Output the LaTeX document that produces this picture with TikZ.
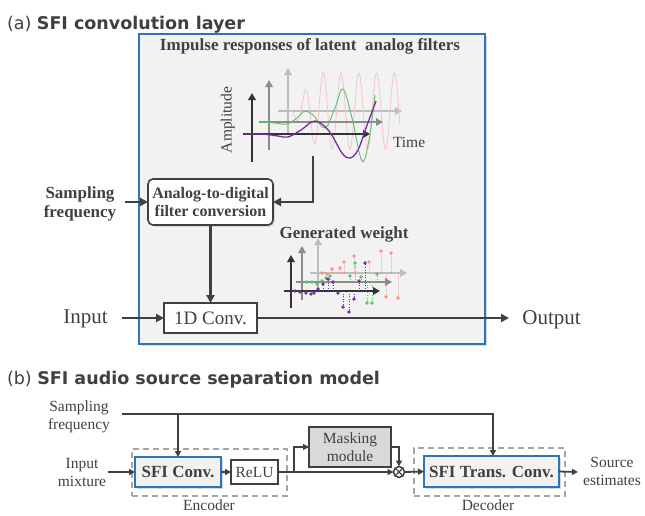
\documentclass[tikz,border=0pt]{standalone}
\usepackage{fontspec}
\setmainfont{Liberation Serif}
\newfontfamily\titlefont{DejaVu Sans}
\usetikzlibrary{arrows.meta,shadows}
\definecolor{ink}{HTML}{404040}
\definecolor{blueb}{HTML}{2E75B6}
\definecolor{boxfill}{HTML}{F2F2F2}
\definecolor{maskfill}{HTML}{D9D9D9}
\definecolor{dashc}{HTML}{A6A6A6}
\definecolor{axf}{HTML}{333333}
\definecolor{axm}{HTML}{8C8C8C}
\definecolor{axb}{HTML}{BDBDBD}
\definecolor{purp}{HTML}{7030A0}
\definecolor{grn}{HTML}{5CBF6A}
\definecolor{pnk}{HTML}{F4C6C6}
\definecolor{pnkd}{HTML}{F29494}
\newcommand\szTitle{\fontsize{17.5}{21}\selectfont}
\newcommand\szHead{\fontsize{17}{20}\selectfont}
\newcommand\szLab{\fontsize{15.5}{18.5}\selectfont}
\newcommand\szBig{\fontsize{21}{25}\selectfont}
\newcommand\szConv{\fontsize{19}{22}\selectfont}
\newcommand\szBold{\fontsize{17}{19}\selectfont}
\newcommand\szAdc{\fontsize{16}{18.5}\selectfont}
\begin{document}
\begin{tikzpicture}[x=1pt,y=-1pt,
  every node/.style={text=ink, inner sep=0pt, outer sep=0pt},
  shad/.style={drop shadow={shadow xshift=1.5pt,shadow yshift=-1.5pt,opacity=0.25,fill=black!60}},
  arr/.style={draw=ink, line width=2.6pt, -{Triangle[length=8pt,width=8pt]}},
  arrb/.style={draw=ink, line width=1.8pt, -{Triangle[length=6pt,width=6pt]}},
  ax/.style={line width=2.6pt, -{Triangle[length=7pt,width=7.5pt]}},
  axfront/.style={ax, draw=axf},
  axmid/.style={ax, draw=axm},
  axback/.style={ax, draw=axb},
  stem/.style={line width=0.6pt, dotted},
  adcbox/.style={draw=ink, line width=1.6pt, rounded corners=5pt, fill=white, align=center, font=\szAdc\bfseries, shad},
  convbox/.style={draw=ink, line width=1.6pt, fill=white, font=\szConv},
  sfibox/.style={draw=blueb, line width=2pt, fill=boxfill, font=\szBold\bfseries, shad},
  plainbox/.style={draw=ink, line width=1.3pt, fill=white, font=\szLab},
  maskbox/.style={draw=ink, line width=1.5pt, fill=maskfill, align=center, font=\szLab},
  dashbox/.style={draw=dashc, line width=1.2pt, dash pattern=on 6pt off 4pt},
  lab/.style={font=\szLab, align=center},
]
\useasboundingbox (0,0) rectangle (645,515);

% ---------------- (a) ----------------
\node[anchor=west, font=\titlefont\szTitle] (titleA) at (7,25) {(a) \textbf{SFI convolution layer}};
\node[draw=blueb, line width=2.2pt, fill=boxfill, minimum width=346pt, minimum height=310pt, shad] (frameA) at (312,189) {};
\node[anchor=base, font=\szHead\bfseries] (headA) at (310,50.5) {Impulse responses of latent\ \ analog filters};

% impulse response plot
\draw[axback] (288,135) -- (288,68);
\draw[axback] (278,111) -- (402,111);
\draw[pnk, line width=0.8pt] plot[domain=290:400, samples=220] (\x, {111 - 38*sin(20.2247*(\x-301))*min(1,(\x-290)/28)});
\draw[axmid] (269,150) -- (269,80);
\draw[axmid] (259,122) -- (383,122);
\draw[grn, line width=0.9pt] plot[smooth, tension=0.6] coordinates {(260,122) (275,123) (287,124) (297,118) (305,111) (314,116) (325,128) (335,108) (343,89) (352,118) (362,161) (369,140) (375,95)};
\draw[axfront] (252,162) -- (252,93);
\draw[axfront] (243,134) -- (370,134);
\draw[purp, line width=1.3pt] plot[smooth, tension=0.6] coordinates {(244,134) (262,134) (278,136) (288,137) (301,130) (315,121) (329,131) (342,153) (350,158) (358,150) (366,128) (376,101)};
\node[font=\szLab, rotate=90] (ampl) at (228,120) {Amplitude};
\node[anchor=base west, font=\szLab] (timel) at (393,147) {Time};
\coordinate (plotout) at (313,156);

% adc box and conv
\node[adcbox, minimum width=125pt, minimum height=46pt] (adc) at (210.5,202) {Analog-to-digital\\filter conversion};
\node[font=\szBold\bfseries, align=center] (sfa) at (80,204) {Sampling\\frequency};
\coordinate (sfaout) at (125,202);
\draw[arr] (plotout) |- (adc.east);
\draw[arr] (sfaout) -- (adc.west);

\node[convbox, minimum width=93pt, minimum height=30pt] (conv) at (210.5,318) {1D Conv.};
\draw[arr] (adc.south) -- (conv.north);

% generated weight plot
\node[anchor=base, font=\szBold\bfseries] (gw) at (344,238) {Generated weight};
\draw[axback] (318,292) -- (318,238);
\draw[axback] (310,273) -- (407,273);
\foreach \px/\py in {322/273,327/274,332/269,340/268,344/262,354/256,369/262,381/251,386/297,391/253,398/298}{
  \draw[stem, pnkd] (\px,273) -- (\px,\py);
  \fill[pnkd] (\px,\py) circle (1.8);
}
\draw[axmid] (302,300) -- (302,246);
\draw[axmid] (296,282) -- (392,282);
\foreach \px/\py in {307/282,312/282,317/284,322/281,326/278,330/276,350/276,355/263,361/277,367/303,372/303,377/274}{
  \draw[stem, grn] (\px,282) -- (\px,\py);
  \fill[grn] (\px,\py) circle (1.8);
}
\draw[axfront] (291,308) -- (291,255);
\draw[axfront] (284,291) -- (380,291);
\foreach \px/\py in {295/291,300/292,306/293,311/294,314/293,318/289,323/284,328/279,333/282,338/293,343/307,349/312,354/299,359/281,365/263}{
  \draw[stem, purp] (\px,291) -- (\px,\py);
  \fill[purp] (\px,\py) circle (1.9);
}

\node[font=\szBig] (inA) at (85.5,319) {Input};
\coordinate (inAout) at (122,318);
\draw[arr] (inAout) -- (conv.west);
\coordinate (outA) at (509,318);
\draw[arr] (conv.east) -- (outA);
\node[font=\szBig] (outAl) at (551.5,320) {Output};

% ---------------- (b) ----------------
\node[anchor=west, font=\titlefont\szTitle] (titleB) at (7,380) {(b) \textbf{SFI audio source separation model}};

\node[dashbox, minimum width=155pt, minimum height=47pt] (enc) at (209.5,472.5) {};
\node[dashbox, minimum width=151pt, minimum height=48pt] (dec) at (489.5,472) {};
\node[font=\szLab] (encl) at (209,505.5) {Encoder};
\node[font=\szLab] (decl) at (488,505.5) {Decoder};

\node[lab] (sfb) at (79,417) {Sampling\\frequency};
\node[lab] (inb) at (82,472.5) {Input\\mixture};
\node[lab] (outbl) at (612,471.5) {Source\\estimates};

\node[sfibox, minimum width=86pt, minimum height=30pt] (sficonv) at (178,472) {SFI Conv.};
\node[plainbox, minimum width=47pt, minimum height=24pt] (relu) at (254.5,472) {ReLU};
\node[maskbox, minimum width=82pt, minimum height=40pt] (mask) at (350,447) {Masking\\module};
\node[circle, draw=ink, line width=1.5pt, fill=white, minimum size=11pt] (mult) at (399,472) {};
\draw[ink, line width=1.3pt] (mult.north west) -- (mult.south east) (mult.north east) -- (mult.south west);
\node[sfibox, minimum width=135pt, minimum height=31pt] (sfitc) at (491.5,471.5) {SFI Trans. Conv.};

\coordinate (sfbin) at (122,414);
\coordinate (sfbr) at (493,414);
\coordinate (inbin) at (108,472);
\coordinate (br) at (294,472);
\coordinate (outb) at (578,472);

\draw[arrb, line join=miter] (sfbin) -- (sfbr) -- (sfbr |- sfitc.north);
\draw[arrb] (sficonv.north |- sfbin) -- (sficonv.north);
\draw[arrb] (inbin) -- (sficonv.west);
\draw[arrb] (sficonv.east) -- (relu.west);
\draw[arrb] (relu.east) -- (mult.west);
\draw[arrb] (br) |- (mask.west);
\draw[arrb] (mask.east) -| (mult.north);
\draw[arrb] (mult.east) -- (sfitc.west);
\draw[arrb] (sfitc.east) -- (outb);
\end{tikzpicture}
\end{document}
